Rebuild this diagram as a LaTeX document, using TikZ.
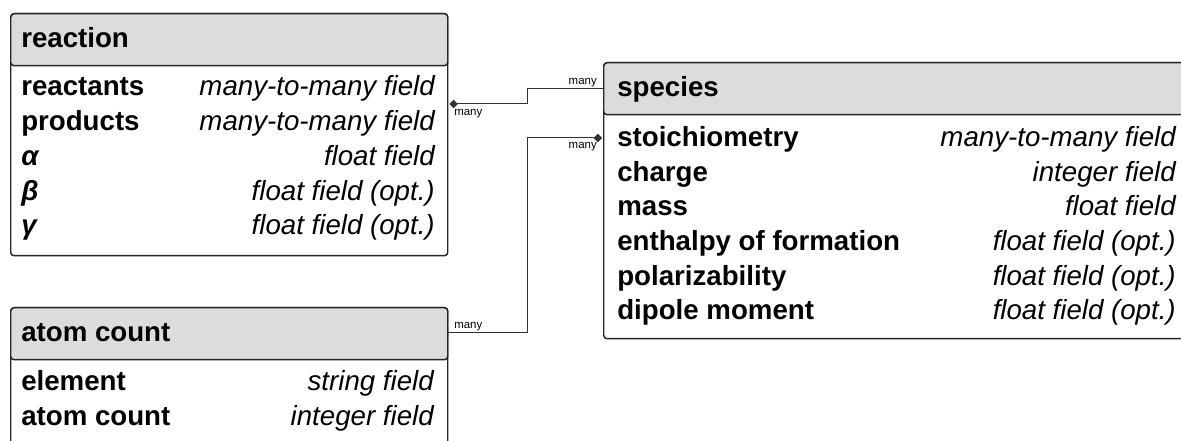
\documentclass[tikz,border=0pt]{standalone}
\usepackage{fontspec}
\setmainfont{Liberation Sans}
\usetikzlibrary{arrows.meta}
\definecolor{headgray}{HTML}{DCDCDC}
\definecolor{edgecol}{HTML}{262626}
\definecolor{conncol}{HTML}{333333}
\begin{document}
\begin{tikzpicture}[x=0.75pt,y=-0.75pt,
  tbody/.style={draw=edgecol, line width=1.1pt, rounded corners=2.5pt, fill=white, inner sep=0pt, anchor=north west},
  thead/.style={draw=edgecol, line width=1.1pt, rounded corners=2.5pt, fill=headgray, inner sep=0pt, anchor=north west, minimum height=39pt},
  htext/.style={anchor=base west, inner sep=0pt, font=\fontsize{20.75}{24}\selectfont\bfseries},
  fname/.style={anchor=base west, inner sep=0pt, font=\fontsize{20.75}{24}\selectfont\bfseries},
  ftype/.style={anchor=base east, inner sep=0pt, font=\fontsize{20.75}{24}\selectfont\itshape},
  conn/.style={draw=conncol, line width=0.75pt},
  card/.style={inner sep=0pt, font=\fontsize{8.6}{10}\selectfont},
  dtip/.style={{Diamond[length=6.5pt,width=6.5pt]}-}
]
\useasboundingbox (0,0) rectangle (1181,441);
\clip (0,0) rectangle (1181,441);

% reaction table
\node[tbody, minimum width=327.75pt, minimum height=181.5pt] (reaction) at (10,13) {};
\node[thead, minimum width=327.75pt] (reactionhead) at (10,13) {};
\node[htext] (rh) at (21,48) {reaction};
\node[fname] (r1n) at (21,96) {reactants};
\node[ftype] (r1t) at (435,96) {many-to-many field};
\node[fname] (r2n) at (21,130.7) {products};
\node[ftype] (r2t) at (435,130.7) {many-to-many field};
\node[fname] (r3n) at (21,165.4) {\textit{α}};
\node[ftype] (r3t) at (435,165.4) {float field};
\node[fname] (r4n) at (21,200.1) {\textit{β}};
\node[ftype] (r4t) at (435,200.1) {float field (opt.)};
\node[fname] (r5n) at (21,234.8) {\textit{γ}};
\node[ftype] (r5t) at (435,234.8) {float field (opt.)};

% atom count table
\node[tbody, minimum width=327.75pt, minimum height=120pt] (atom) at (10,307) {};
\node[thead, minimum width=327.75pt] (atomhead) at (10,307) {};
\node[htext] (ah) at (21,342) {atom count};
\node[fname] (a1n) at (21,391) {element};
\node[ftype] (a1t) at (434,391) {string field};
\node[fname] (a2n) at (21,426) {atom count};
\node[ftype] (a2t) at (434,426) {integer field};

% species table
\node[tbody, minimum width=439.5pt, minimum height=207pt] (species) at (603,62) {};
\node[thead, minimum width=439.5pt] (specieshead) at (603,62) {};
\node[htext] (sh) at (617,97) {species};
\node[fname] (s1n) at (617,146.5) {stoichiometry};
\node[ftype] (s1t) at (1176,146.5) {many-to-many field};
\node[fname] (s2n) at (617,181.2) {charge};
\node[ftype] (s2t) at (1176,181.2) {integer field};
\node[fname] (s3n) at (617,215.9) {mass};
\node[ftype] (s3t) at (1176,215.9) {float field};
\node[fname] (s4n) at (617,250.6) {enthalpy of formation};
\node[ftype] (s4t) at (1176,250.6) {float field (opt.)};
\node[fname] (s5n) at (617,285.3) {polarizability};
\node[ftype] (s5t) at (1176,285.3) {float field (opt.)};
\node[fname] (s6n) at (617,320) {dipole moment};
\node[ftype] (s6t) at (1176,320) {float field (opt.)};

% connector bends
\coordinate (k1) at (527,104);
\coordinate (k2) at (527,89);
\coordinate (k3) at (527,138);
\coordinate (k4) at (527,333);

% reaction -- species
\draw[conn, dtip] ([xshift=0.6pt]reaction.east |- k1) -- (k1) -- (k2) -- (species.west |- k2);
\node[card, anchor=base west] (c1a) at (454,116) {many};
\node[card, anchor=base east] (c1b) at (597,85) {many};

% species -- atom count
\draw[conn, dtip] ([xshift=-0.6pt]species.west |- k3) -- (k3) -- (k4) -- (atom.east |- k4);
\node[card, anchor=base east] (c2a) at (597,149) {many};
\node[card, anchor=base west] (c2b) at (454,329) {many};
\end{tikzpicture}
\end{document}
